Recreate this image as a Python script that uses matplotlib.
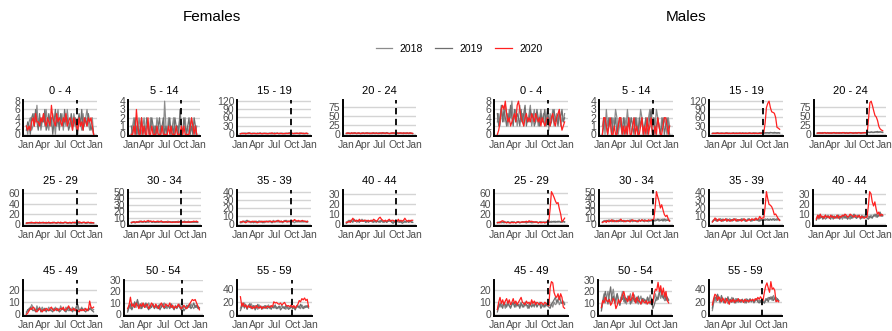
import numpy as np
import matplotlib.pyplot as plt

plt.rcParams['font.family'] = ['Liberation Sans', 'DejaVu Sans']

# weekly case counts, one value per week of the year
years = ['2018', '2019', '2020']
year_colors = ['#8c8c8c', '#6e6e6e', '#ff2020']
age_groups = ['0 - 4', '5 - 14', '15 - 19', '20 - 24', '25 - 29', '30 - 34',
              '35 - 39', '40 - 44', '45 - 49', '50 - 54', '55 - 59']
y_breaks = [[0, 2, 4, 6, 8], [0, 1, 2, 3, 4], [0, 30, 60, 90, 120], [0, 25, 50, 75],
            [0, 20, 40, 60], [0, 10, 20, 30, 40, 50], [0, 10, 20, 30, 40], [0, 10, 20, 30],
            [0, 10, 20], [0, 10, 20, 30], [0, 20, 40]]
month_days = [0, 91, 182, 274, 366]
month_labels = ['Jan', 'Apr', 'Jul', 'Oct', 'Jan']
cutoff_day = 272

# Females
f04_2018 = [2,0,3,4,1,2,5,3,7,2,4,1,3,5,2,6,3,1,4,2,5,3,0,4,6,2,3,5,1,4,2,6,3,2,4,1,5,3,2,0,4,3,1,5,2,4,6,3,1,2,4,0]
f04_2019 = [1,3,2,0,4,5,2,6,3,1,5,2,4,3,6,1,2,5,3,4,0,3,6,2,4,1,5,3,2,6,3,4,1,2,5,3,2,4,1,3,5,2,6,1,3,4,2,5,3,1,2,0]
f04_2020 = [2,1,2,1,3,4,2,5,3,3,2,4,3,5,3,2,4,3,2,7,4,3,2,5,3,4,3,2,4,3,5,2,3,4,3,1,4,3,2,1,4,2,3,1,4,3,2,4,3,4,2,0]

f514_2018 = [0,1,2,0,1,0,2,1,0,1,2,0,1,1,0,2,1,0,1,0,2,1,0,1,1,0,4,1,0,2,1,0,1,2,0,1,0,1,2,1,0,1,2,0,1,0,1,2,0,1,0,1]
f514_2019 = [1,0,1,2,0,1,0,1,2,0,1,0,2,1,0,1,2,1,0,1,0,1,2,0,1,2,0,1,0,1,2,0,1,0,2,1,1,0,3,1,0,2,1,0,1,2,0,1,0,2,1,0]
f514_2020 = [0,0,1,0,3,1,0,0,2,0,1,0,0,2,0,0,1,0,0,0,1,0,0,0,1,0,0,0,0,1,0,1,0,0,0,1,0,0,0,1,0,1,0,0,0,0,1,2,1,0,1,0]

f1519_2018 = [3,4,2,3,5,3,2,4,3,3,4,2,3,4,3,2,3,4,3,2,4,3,3,2,4,3,2,3,4,3,2,3,4,2,3,3,4,2,3,4,3,2,3,4,3,2,3,4,3,2,3,2]
f1519_2019 = [2,3,3,4,2,3,5,3,2,4,3,3,2,4,3,5,2,3,3,4,2,3,4,3,2,3,5,3,4,2,3,4,3,3,2,4,3,5,4,3,2,3,4,3,3,2,4,3,2,3,4,3]
f1519_2020 = [2,3,4,3,2,3,4,5,3,2,3,4,3,2,3,4,3,2,4,3,3,2,3,4,5,3,2,3,4,3,4,3,2,3,4,3,3,4,5,4,3,4,3,4,3,5,4,3,4,3,4,3]

f2024_2018 = [3,2,4,3,3,2,4,3,2,3,4,3,2,3,3,4,2,3,4,3,2,4,3,3,2,3,4,3,5,3,2,4,3,3,2,3,4,3,2,3,4,3,3,2,4,3,2,3,3,4,3,2]
f2024_2019 = [2,3,3,2,4,3,3,4,2,3,3,2,4,3,2,3,4,3,3,2,3,4,2,3,3,4,3,2,3,4,3,5,3,2,3,3,4,2,3,3,2,4,3,3,2,3,4,3,2,3,3,2]
f2024_2020 = [3,4,3,2,4,3,4,3,3,4,3,2,3,4,3,3,4,3,2,3,4,3,3,4,3,2,3,4,4,3,3,4,3,2,3,4,3,4,3,4,3,3,4,3,4,3,3,4,3,4,3,3]

f2529_2018 = [2,3,3,2,4,3,2,3,3,2,4,3,3,2,3,4,3,2,3,3,2,4,3,2,3,3,4,3,2,3,4,3,2,3,3,4,3,2,3,4,3,3,2,3,4,3,2,3,3,2,3,2]
f2529_2019 = [3,2,3,4,2,3,3,2,4,3,2,3,4,3,3,2,3,4,2,3,3,4,3,2,4,3,2,3,3,4,3,2,3,3,2,4,3,3,4,3,2,3,3,4,3,2,3,4,3,2,3,3]
f2529_2020 = [2,3,3,3,4,3,3,4,3,3,4,3,3,4,3,3,3,4,3,3,4,3,3,3,4,3,4,3,3,4,4,3,3,4,3,3,4,4,3,4,5,4,3,4,4,3,4,4,3,4,3,3]

f3034_2018 = [3,4,3,2,4,3,5,4,3,4,5,3,4,3,4,5,3,4,3,4,3,5,4,3,4,3,4,3,5,4,3,4,4,3,4,3,5,4,3,4,3,4,3,4,5,3,4,3,4,3,4,3]
f3034_2019 = [2,3,4,3,3,4,3,4,5,3,4,3,4,4,5,4,3,4,3,3,4,3,4,5,3,4,3,4,3,4,3,3,4,3,4,4,3,4,3,3,4,5,3,4,3,4,3,4,3,4,3,3]
f3034_2020 = [3,3,4,3,4,3,4,5,4,4,5,4,5,6,4,5,4,5,4,4,5,4,4,5,4,3,4,4,3,4,4,3,3,4,3,4,3,4,4,3,4,3,4,3,4,3,4,4,5,4,5,4]

f3539_2018 = [3,2,3,4,3,5,4,3,2,3,4,3,2,3,4,3,3,4,2,3,4,3,3,4,3,5,3,4,3,3,4,3,2,3,4,5,3,4,3,4,3,2,3,4,3,4,3,3,4,3,4,3]
f3539_2019 = [2,3,4,3,4,5,3,4,3,3,2,3,4,3,4,4,3,2,3,4,3,4,4,3,2,3,4,3,5,4,3,4,3,4,5,4,3,4,3,3,4,5,4,3,4,3,4,4,3,4,3,3]
f3539_2020 = [3,3,4,3,2,3,4,3,3,4,3,4,3,2,3,3,4,3,4,3,4,3,4,4,3,4,3,4,4,5,3,4,3,4,4,3,4,4,3,5,4,6,5,4,5,4,4,5,4,4,3,4]

f4044_2018 = [2,3,4,2,3,5,3,4,2,3,4,3,5,4,3,2,4,3,3,4,2,3,4,3,3,2,4,3,2,3,4,2,3,3,4,2,3,2,4,3,2,3,2,3,4,2,3,3,2,4,3,2]
f4044_2019 = [1,2,3,4,3,2,5,3,4,3,2,4,3,3,4,2,3,2,3,3,4,2,3,2,3,3,2,4,3,2,3,2,3,4,3,2,1,3,2,3,4,2,3,1,2,3,2,3,2,3,2,2]
f4044_2020 = [2,2,3,2,4,6,4,3,4,3,5,3,4,3,4,4,3,4,3,4,3,5,4,3,4,6,7,5,4,3,4,3,4,5,3,4,4,3,4,3,5,3,4,3,4,6,4,3,4,3,4,4]

f4549_2018 = [2,3,5,4,8,6,5,3,7,4,5,3,6,4,5,3,4,6,3,5,4,3,6,4,5,3,7,4,5,3,6,4,3,5,4,6,3,4,7,5,3,4,6,3,5,4,3,5,4,6,3,4]
f4549_2019 = [1,4,3,6,5,3,4,2,5,3,6,2,4,3,5,2,4,3,4,3,2,5,4,3,4,2,3,5,4,3,2,4,6,3,4,2,5,3,6,8,4,3,5,4,3,2,4,3,5,4,3,2]
f4549_2020 = [0,1,3,5,4,6,5,3,2,4,5,3,2,4,3,5,4,3,5,6,4,3,4,5,3,4,5,4,6,3,4,5,7,5,3,4,5,3,4,3,2,4,3,4,3,5,3,4,11,6,5,6]

f5054_2018 = [3,8,5,10,7,9,6,12,8,5,10,7,9,6,8,10,5,7,9,6,8,5,7,9,6,8,10,7,5,8,6,9,7,5,8,6,7,9,5,8,6,7,5,8,6,9,7,5,8,6,7,5]
f5054_2019 = [2,6,9,4,7,11,8,13,6,9,5,8,7,10,6,4,8,6,9,5,7,6,8,4,7,9,5,6,8,7,5,9,6,4,7,5,8,6,4,7,3,5,8,6,9,5,7,10,6,8,5,6]
f5054_2020 = [5,8,15,7,9,6,10,8,5,9,7,10,6,8,9,5,7,10,8,6,9,7,5,8,10,7,6,9,8,7,10,6,8,5,7,6,9,7,5,6,8,6,5,7,9,11,13,12,13,10,7,4]

f5559_2018 = [10,16,12,18,14,9,15,11,17,13,10,14,12,8,15,11,13,9,14,10,12,15,9,13,11,14,10,12,9,13,11,15,10,12,8,14,11,9,13,10,12,8,14,11,13,9,15,12,10,14,11,13]
f5559_2019 = [6,12,18,10,15,8,13,17,9,12,14,7,11,16,10,13,8,12,10,14,9,11,13,8,12,10,15,9,11,13,7,10,12,9,14,11,8,10,13,9,11,7,12,14,10,16,12,9,13,11,14,10]
f5559_2020 = [28,13,18,12,15,10,14,11,13,9,12,10,14,11,10,13,9,12,11,10,13,12,11,14,12,20,18,19,17,16,18,15,17,19,15,13,14,12,15,11,14,10,13,16,22,20,25,23,26,22,24,12]

# Males
m04_2018 = [3,5,2,6,4,3,7,5,2,6,4,8,3,5,6,2,4,7,3,5,2,6,4,3,5,7,2,4,6,3,5,2,4,6,3,5,2,4,6,1,5,3,6,2,4,5,3,6,2,4,3,5]
m04_2019 = [5,2,4,7,3,6,4,2,5,3,7,4,2,6,3,5,4,2,6,3,5,7,2,4,3,6,4,5,2,3,6,4,2,5,3,4,6,2,5,4,2,3,5,6,3,4,2,5,4,6,3,4]
m04_2020 = [0,1,3,6,7,6,8,5,3,4,2,3,4,5,3,7,8,6,4,3,2,4,5,3,4,3,5,4,3,5,4,3,4,2,4,3,2,3,4,3,2,4,5,3,2,4,5,6,3,1,2,3]

m514_2018 = [1,2,0,3,1,2,1,0,2,1,3,2,0,1,2,1,0,2,1,3,1,2,0,1,2,1,2,0,1,3,2,1,0,2,1,2,3,1,0,2,1,3,2,1,0,2,1,2,1,0,2,1]
m514_2019 = [0,1,2,1,0,2,1,2,0,1,2,0,1,2,1,0,2,1,0,1,2,1,2,1,0,2,1,0,2,1,2,0,1,2,0,1,2,3,1,2,0,1,2,1,0,1,2,0,1,2,1,0]
m514_2020 = [0,2,2,1,0,1,2,0,0,1,0,0,1,2,2,0,1,0,1,0,2,0,0,1,2,0,1,0,0,1,2,0,1,0,2,0,1,2,0,0,1,0,2,1,0,0,1,2,2,1,0,1]

m1519_2018 = [3,4,3,5,4,3,4,5,3,4,3,4,5,3,4,3,4,3,5,4,3,4,3,4,3,5,4,3,4,3,4,5,3,4,3,4,4,5,4,5,4,6,5,4,5,6,5,4,5,4,5,4]
m1519_2019 = [4,3,4,3,5,4,3,4,4,3,5,4,3,4,3,4,5,4,3,4,4,3,4,5,4,3,4,3,4,4,3,4,5,4,3,4,5,4,5,4,6,5,6,5,7,6,5,7,6,5,6,5]
m1519_2020 = ([3,4,3,4,5,3,4,3,4,3,4,5,3,4,3,4,4,3,4,3,4,5,3,4,3,4,3,4,5,4,3,4,3,4,4,3,4,4,5]
              + [6,40,95,110,118,95,80,78,75,60,25,22,18])

m2024_2018 = [4,3,5,4,3,4,5,3,4,4,3,5,4,3,4,5,4,3,4,4,5,3,4,5,4,3,4,4,5,4,3,4,5,4,4,5,4,5,4,5,6,5,6,5,6,7,6,5,6,7,6,5]
m2024_2019 = [3,4,4,3,5,4,4,3,5,4,4,3,4,5,3,4,4,5,4,3,4,5,4,4,3,5,4,4,3,4,5,4,4,5,4,4,5,4,5,5,6,5,7,6,5,6,7,8,6,7,6,6]
m2024_2020 = ([3,4,3,4,3,4,5,3,4,3,4,3,4,5,4,3,4,3,4,4,5,4,3,4,3,4,5,4,3,4,4,3,5,4,3,4,4,5,4]
              + [6,45,88,92,80,65,52,48,38,22,15,12,10])

m2529_2018 = [3,4,5,3,4,6,4,3,5,4,3,4,5,4,3,4,5,3,4,5,4,4,3,5,4,6,4,3,5,4,4,3,5,4,3,4,5,4,3,5,4,6,5,4,6,5,4,6,5,4,5,4]
m2529_2019 = [4,3,4,5,4,3,4,4,5,3,4,5,4,4,3,5,4,3,4,4,5,4,3,4,5,4,3,5,4,4,5,3,4,5,4,4,3,4,5,4,5,4,5,6,4,5,6,5,4,5,6,5]
m2529_2020 = ([3,4,3,6,7,5,4,3,4,3,3,4,3,4,3,4,5,4,4,5,4,5,6,4,7,5,6,5,4,5,4,3,4,3,4,4,3,4,5]
              + [5,30,63,58,52,45,40,42,30,20,5,8,12])

m3034_2018 = [4,5,6,4,5,7,5,4,6,5,4,6,5,7,4,5,6,5,4,6,5,7,5,4,6,5,5,4,6,5,7,5,4,6,5,4,6,5,7,6,5,6,7,5,6,7,8,6,5,7,6,5]
m3034_2019 = [3,5,4,6,5,4,6,5,7,4,5,6,4,5,7,5,4,6,5,5,6,4,7,5,6,5,4,6,7,5,6,5,7,6,5,6,5,7,6,5,7,6,8,7,6,7,5,8,7,6,7,6]
m3034_2020 = ([3,4,5,3,6,4,5,7,4,6,5,4,6,5,8,5,6,4,5,6,5,4,6,7,5,6,5,4,6,5,7,6,5,6,5,7,6,6,7]
              + [8,25,50,42,35,25,30,22,15,12,14,8,5])

m3539_2018 = [4,6,5,7,4,6,5,4,7,5,6,4,5,7,6,4,5,6,7,5,4,6,5,7,6,4,5,7,6,5,4,6,7,5,6,4,7,5,6,5,7,6,5,6,7,5,6,7,6,5,7,6]
m3539_2019 = [3,5,6,4,6,5,7,6,4,5,6,7,5,4,6,5,7,6,5,4,6,5,7,5,6,4,5,6,7,4,6,5,6,7,5,6,4,6,5,6,5,6,7,5,6,6,7,5,6,7,6,5]
m3539_2020 = ([3,5,8,6,4,7,5,4,6,5,7,4,6,5,4,6,5,7,4,6,5,6,4,5,7,6,4,5,6,5,7,6,5,8,6,7,10,7,8]
              + [8,22,41,32,25,24,22,18,12,13,10,7,5])

m4044_2018 = [6,8,5,9,7,6,8,5,7,9,6,8,7,5,8,6,9,7,6,8,5,7,9,6,8,7,5,8,6,9,7,6,8,7,5,9,6,8,7,9,8,6,9,7,8,10,7,9,8,10,9,8]
m4044_2019 = [4,7,9,6,8,5,7,9,6,8,7,5,9,6,8,7,6,9,5,8,7,9,6,8,5,7,9,6,8,10,7,6,9,8,7,6,8,7,9,6,5,8,7,6,9,8,10,7,9,12,8,9]
m4044_2020 = ([5,9,6,10,7,8,6,9,7,8,6,9,7,8,6,7,9,6,8,7,9,8,10,9,7,8,10,9,8,7,9,8,7,9,6,8,7,6,7]
              + [7,18,32,30,22,18,22,15,10,12,8,10,9])

m4549_2018 = [4,8,6,10,7,9,5,8,11,7,6,9,8,10,6,9,7,8,10,6,9,7,8,5,9,7,10,8,6,9,7,8,10,7,9,6,8,7,9,8,7,9,6,10,8,9,12,8,10,9,11,9]
m4549_2019 = [2,6,9,7,5,10,8,6,9,7,5,8,10,6,9,7,8,5,9,7,6,10,8,7,5,9,6,8,7,10,6,8,9,5,7,8,6,9,7,6,5,8,10,12,14,10,12,15,11,9,10,8]
m4549_2020 = ([4,10,14,9,12,8,11,13,9,12,8,10,13,9,11,8,10,12,14,10,9,8,11,9,10,8,12,9,11,8,10,9,8,10,9,8,10,9,8]
              + [7,22,27,26,18,15,14,17,12,17,14,6,5])

m5054_2018 = [5,12,18,10,15,20,12,9,16,22,14,10,18,13,8,15,20,11,14,9,16,12,18,10,14,17,11,15,9,13,16,10,14,12,9,15,11,17,13,10,14,18,12,16,20,14,18,15,12,17,14,13]
m5054_2019 = [3,10,15,20,13,9,17,24,12,16,10,14,18,11,8,15,13,17,10,14,12,16,9,13,15,11,14,10,16,12,9,14,11,13,10,15,12,9,14,5,8,12,15,13,18,22,16,14,19,12,15,12]
m5054_2020 = ([6,12,10,15,12,11,13,8,10,14,12,5,8,13,10,12,17,20,15,13,11,16,12,14,19,13,10,15,12,11,9,13,11,10,12,9,11,10,12]
              + [10,18,22,21,28,20,25,17,23,15,20,12,10])

m5559_2018 = [6,18,25,20,30,24,18,28,22,19,26,21,17,24,20,27,22,18,25,21,19,23,20,24,21,18,25,22,19,23,20,24,18,22,25,20,23,19,24,21,18,25,22,27,24,28,22,30,25,27,24,22]
m5559_2019 = [10,22,28,24,32,26,20,30,23,18,25,22,28,20,24,19,26,22,18,25,21,23,19,24,20,22,18,24,21,25,20,23,19,22,24,20,18,22,17,20,18,22,25,20,27,24,28,22,26,21,25,22]
m5559_2020 = ([15,25,32,30,22,28,24,20,26,22,18,25,21,16,23,20,24,19,22,21,25,20,23,22,19,24,21,22,20,23,22,24,21,25,23,27,24,28,25]
              + [22,35,45,50,42,35,52,40,42,38,20,22,20])

females = [
    (f04_2018, f04_2019, f04_2020), (f514_2018, f514_2019, f514_2020),
    (f1519_2018, f1519_2019, f1519_2020), (f2024_2018, f2024_2019, f2024_2020),
    (f2529_2018, f2529_2019, f2529_2020), (f3034_2018, f3034_2019, f3034_2020),
    (f3539_2018, f3539_2019, f3539_2020), (f4044_2018, f4044_2019, f4044_2020),
    (f4549_2018, f4549_2019, f4549_2020), (f5054_2018, f5054_2019, f5054_2020),
    (f5559_2018, f5559_2019, f5559_2020),
]
males = [
    (m04_2018, m04_2019, m04_2020), (m514_2018, m514_2019, m514_2020),
    (m1519_2018, m1519_2019, m1519_2020), (m2024_2018, m2024_2019, m2024_2020),
    (m2529_2018, m2529_2019, m2529_2020), (m3034_2018, m3034_2019, m3034_2020),
    (m3539_2018, m3539_2019, m3539_2020), (m4044_2018, m4044_2019, m4044_2020),
    (m4549_2018, m4549_2019, m4549_2020), (m5054_2018, m5054_2019, m5054_2020),
    (m5559_2018, m5559_2019, m5559_2020),
]

# panel placement in pixels (left, right) per row, and (top, bottom) per row
W, H = 892, 331
row_px = [(99.5, 136), (190, 226), (280, 316)]
female_cols = [[(23, 97), (128, 200), (237, 311), (343, 416)],
               [(23, 97), (128, 201), (237, 311), (343, 416)],
               [(23, 97), (124, 203), (237, 312)]]
male_cols = [[(494, 568), (599, 673), (709, 783), (814, 886)],
             [(494, 568), (599, 673), (709, 783), (813, 886)],
             [(494, 568), (598, 672), (709, 782)]]

fig = plt.figure(figsize=(W / 100, H / 100), dpi=100)


def draw_panel(box, top_bot, label, series, breaks, ymax):
    (l, r), (t, b) = box, top_bot
    ax = fig.add_axes([l / W, 1 - b / H, (r - l) / W, (b - t) / H])
    for vals, col, yr in zip(series, year_colors, years):
        days = np.arange(len(vals)) * 7 + 3
        ax.plot(days, vals, color=col, lw=0.9, label=yr, zorder=3)
    ax.axvline(cutoff_day, color='black', lw=1.3, dashes=(3.5, 2.5), zorder=4)
    ax.set_xlim(-15, 378)
    ax.set_ylim(-0.05 * ymax, 1.05 * ymax)
    ax.set_xticks(month_days)
    ax.set_xticklabels(month_labels)
    ax.set_yticks(breaks)
    ax.yaxis.grid(True, color='#d4d4d4', lw=1.0)
    ax.set_axisbelow(True)
    for s in ['top', 'right']:
        ax.spines[s].set_visible(False)
    for s in ['left', 'bottom']:
        ax.spines[s].set_linewidth(1.4)
    ax.tick_params(axis='both', length=0, labelsize=7.5, colors='#4d4d4d', pad=2)
    ax.tick_params(axis='x', pad=3)
    ax.set_title(label, fontsize=8, pad=4)
    return ax


panel_idx = 0
for row, cols in enumerate(female_cols):
    for c in range(len(cols)):
        i = panel_idx
        ymax = max(max(max(s) for s in females[i]), max(max(s) for s in males[i]))
        ax_f = draw_panel(female_cols[row][c], row_px[row], age_groups[i], females[i], y_breaks[i], ymax)
        draw_panel(male_cols[row][c], row_px[row], age_groups[i], males[i], y_breaks[i], ymax)
        panel_idx += 1

fig.text(212 / W, 1 - 17 / H, 'Females', ha='center', va='center', fontsize=11)
fig.text(686 / W, 1 - 17 / H, 'Males', ha='center', va='center', fontsize=11)

handles, labels = ax_f.get_legend_handles_labels()
fig.legend(handles, labels, loc='center', bbox_to_anchor=(459 / W, 1 - 49 / H), ncol=3,
           frameon=False, fontsize=7.5, handlelength=1.6, columnspacing=1.2, handletextpad=0.7)

fig.savefig('out.png', dpi=100)
